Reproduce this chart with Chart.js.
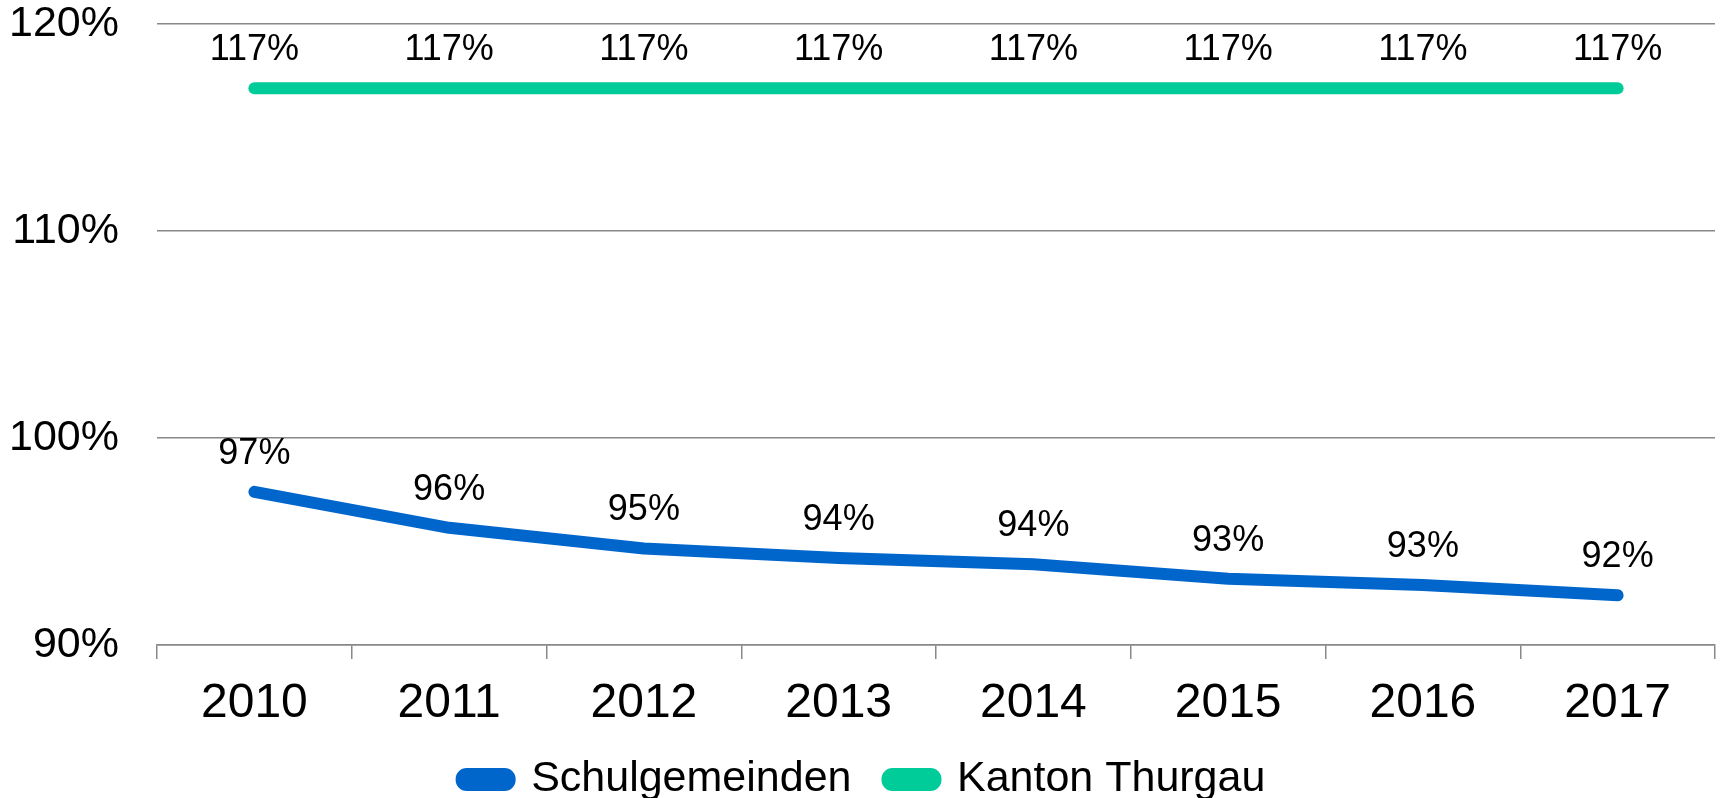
<!DOCTYPE html>
<html>
<head>
<meta charset="utf-8">
<script src="https://cdn.jsdelivr.net/npm/chart.js@4/dist/chart.umd.min.js"></script>
<style>
  html, body { margin: 0; padding: 0; background: #fff; }
  #wrap { width: 1721px; height: 798px; }
</style>
</head>
<body>
<div id="wrap"><canvas id="canva1"></canvas></div>
<script>
// données
const annees = ['2010', '2011', '2012', '2013', '2014', '2015', '2016', '2017'];
const schulgemeinden = [97.4, 95.66, 94.66, 94.2, 93.9, 93.2, 92.9, 92.4];
const kantonThurgau = [116.9, 116.9, 116.9, 116.9, 116.9, 116.9, 116.9, 116.9];
const graduations = [90, 100, 110, 120];

const police = '"Liberation Sans", Arial, sans-serif';

// petit plugin pour écrire les valeurs au-dessus des points
const etiquettes = {
    id: 'etiquettes',
    afterDatasetsDraw(chart) {
        const ctx = chart.ctx;
        ctx.save();
        ctx.font = '36px ' + police;
        ctx.fillStyle = '#000';
        ctx.textAlign = 'center';
        ctx.textBaseline = 'middle';
        chart.data.datasets.forEach((ds, i) => {
            chart.getDatasetMeta(i).data.forEach((pt, j) => {
                ctx.fillText(Math.round(ds.data[j]) + '%', pt.x, pt.y - 38);
            });
        });
        ctx.restore();
    }
};

new Chart(document.querySelector('#canva1'), {
    type: 'line',
    data: {
        labels: annees,
        datasets: [
            {
                label: 'Schulgemeinden',
                data: schulgemeinden,
                borderColor: '#0066CC',
                backgroundColor: '#0066CC',
                borderWidth: 12,
                borderCapStyle: 'round',
                borderJoinStyle: 'round',
                pointRadius: 0,
                tension: 0
            },
            {
                label: 'Kanton Thurgau',
                data: kantonThurgau,
                borderColor: '#00CC99',
                backgroundColor: '#00CC99',
                borderWidth: 12,
                borderCapStyle: 'round',
                borderJoinStyle: 'round',
                pointRadius: 0,
                tension: 0
            }
        ]
    },
    options: {
        responsive: true,
        maintainAspectRatio: false,
        animation: false,
        layout: { padding: { left: 12, right: 6, top: 0, bottom: -13 } },
        scales: {
            x: {
                offset: true,
                afterFit: axe => { axe.height = 77; },
                grid: {
                    offset: true,
                    drawOnChartArea: false,
                    drawTicks: true,
                    tickLength: 14,
                    color: '#888',
                    lineWidth: 1.5
                },
                border: { display: true, color: '#888', width: 1.5 },
                ticks: {
                    color: '#000',
                    padding: 16,
                    font: { family: police, size: 48 }
                }
            },
            y: {
                min: 90,
                max: 120,
                afterBuildTicks: axe => { axe.ticks = graduations.map(v => ({ value: v })); },
                afterFit: axe => {
                    // largeur fixe et pas d'espace en plus en haut
                    axe.width = 145;
                    axe.paddingTop = 24;
                    axe.paddingBottom = 0;
                },
                grid: { color: '#888', lineWidth: 1.5, drawTicks: false },
                border: { display: false },
                ticks: {
                    color: '#000',
                    padding: 38,
                    callback: v => v + '%',
                    font: { family: police, size: 43 }
                }
            }
        },
        plugins: {
            legend: {
                position: 'bottom',
                labels: {
                    color: '#000',
                    boxWidth: 48,
                    boxHeight: 11,
                    useBorderRadius: true,
                    borderRadius: 5,
                    padding: 36,
                    font: { family: police, size: 43 }
                }
            },
            tooltip: { enabled: false }
        }
    },
    plugins: [etiquettes]
});
</script>
</body>
</html>
